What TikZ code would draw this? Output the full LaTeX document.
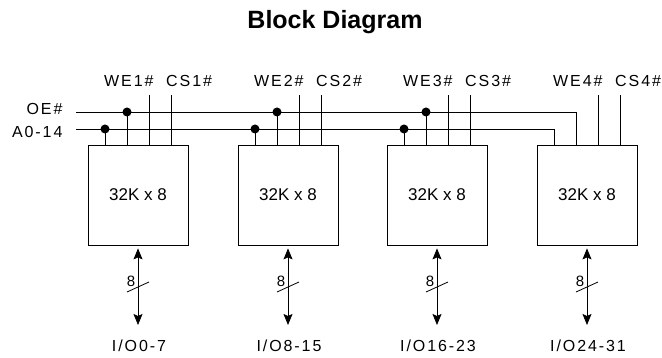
\documentclass[tikz,border=0pt]{standalone}
\usepackage{fontspec}
\setmainfont{Liberation Sans}
\newfontfamily\spacedfont[LetterSpace=12]{Liberation Sans}
\usetikzlibrary{arrows.meta}
\tikzset{
  wire/.style={line width=0.8pt},
  memblock/.style={draw,wire,minimum width=100pt,minimum height=100pt,inner sep=0pt,font=\fontsize{17}{20}\selectfont},
  siglabel/.style={anchor=base,font=\spacedfont\fontsize{16}{19}\selectfont},
  buslabel/.style={anchor=base,font=\fontsize{15}{17}\selectfont},
  dbus/.style={wire,{Stealth[length=11pt,width=9pt,inset=2pt]}-{Stealth[length=11pt,width=9pt,inset=2pt]}}
}
\begin{document}
\begin{tikzpicture}[x=1pt,y=-1pt]
\useasboundingbox (0,0) rectangle (662,358);
\node[anchor=base,font=\bfseries\fontsize{25}{30}\selectfont] (title) at (335,29) {Block Diagram};
% shared address and output enable lines
\node[siglabel,anchor=base east] (oelbl) at (66,115) {OE\#};\node[siglabel,anchor=base east] (albl) at (66,138) {A0-14};
\coordinate (oebus) at (76,112);\coordinate (abus) at (76,129);
\foreach \i/\xl in {1/88,2/238,3/387,4/537}{
  \pgfmathsetmacro{\xc}{\xl+50}
  \node[memblock] (mem\i) at (\xc,195) {32K x 8};
  \coordinate (pa\i) at (\xl+17,145);\coordinate (po\i) at (\xl+39,145);
  \coordinate (pw\i) at (\xl+61,145);\coordinate (pc\i) at (\xl+83,145);
  \coordinate (tw\i) at (\xl+61,95);\coordinate (tc\i) at (\xl+83,95);
  \draw[wire] (pw\i)--(tw\i);\draw[wire] (pc\i)--(tc\i);
  \node[siglabel,anchor=base west,inner sep=0pt] (we\i) at (\xl+16,87) {WE\i\#};\node[siglabel,anchor=base west,inner sep=0pt] (cs\i) at (\xl+78,87) {CS\i\#};
  \coordinate (io\i) at (\xc,325);
  \draw[dbus,shorten <=3pt] (mem\i.south)--(io\i);
  \draw[wire] (\xc-11,292)--(\xc+11,282);
  \node[buslabel] (w\i) at (\xc-7,287) {8};
  \node[siglabel] (iolbl\i) at (\xc+1,352) {I/O\ifcase\i\or0-7\or8-15\or16-23\or24-31\fi};
}
\draw[wire] (oebus)-|(po4);\draw[wire] (abus)-|(pa4);
\foreach \i in {1,2,3}{
  \draw[wire] (pa\i)--(pa\i|-abus);\fill (pa\i|-abus) circle (4.5);
  \draw[wire] (po\i)--(po\i|-oebus);\fill (po\i|-oebus) circle (4.5);
}
\end{tikzpicture}
\end{document}
